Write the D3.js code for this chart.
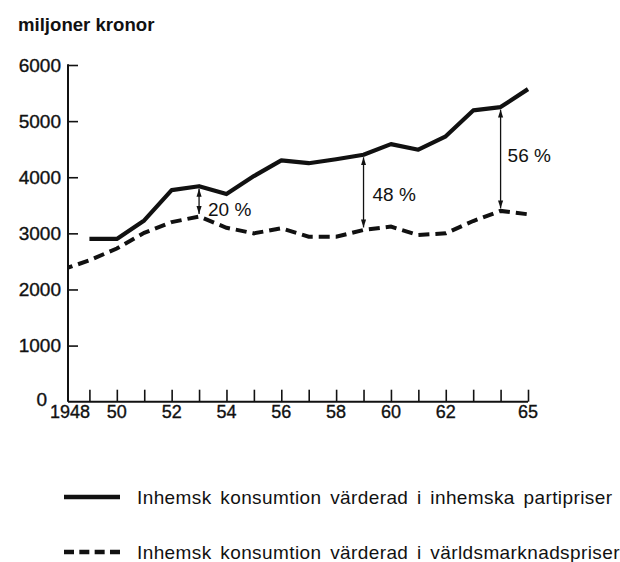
<!DOCTYPE html>
<html>
<head>
<meta charset="utf-8">
<script src="https://cdn.jsdelivr.net/npm/d3@7/dist/d3.min.js"></script>
<style>
  html, body { margin: 0; padding: 0; background: #fff; }
  svg { display: block; font-family: "Liberation Sans", Arial, Helvetica, sans-serif; }
</style>
</head>
<body>
<svg id="chart" width="620" height="562"></svg>
<script>
// ---- data ----
const solidYears  = [1949,1950,1951,1952,1953,1954,1955,1956,1957,1958,1959,1960,1961,1962,1963,1964,1965];
const solidValues = [2900,2900,3230,3770,3840,3700,4020,4300,4250,4320,4400,4590,4490,4730,5190,5250,5570];
const dashedYears  = [1948,1949,1950,1951,1952,1953,1954,1955,1956,1957,1958,1959,1960,1961,1962,1963,1964,1965];
const dashedValues = [2350,2520,2730,3010,3200,3300,3100,3000,3090,2940,2940,3060,3120,2970,3000,3220,3400,3340];
const yTicks = [0,1000,2000,3000,4000,5000,6000];
const xTickYears = [1949,1950,1951,1952,1953,1954,1955,1956,1957,1958,1959,1960,1961,1962,1963,1964,1965];
const xLabelYears = [1948,1950,1952,1954,1956,1958,1960,1962,1965];
const xLabelText = ["1948","50","52","54","56","58","60","62","65"];
const arrowYears = [1953,1959,1964];
const arrowLabels = ["20 %","48 %","56 %"];
const yTitle = "miljoner kronor";
const legendLabels = ["Inhemsk konsumtion värderad i inhemska partipriser",
                      "Inhemsk konsumtion värderad i världsmarknadspriser"];

// ---- layout ----
const svg = d3.select("#chart");
const axisX = 68, axisBottom = 401.7, axisTop = 65;
const x = d3.scaleLinear().domain([1948, 1965]).range([62, 528]);
const y = d3.scaleLinear().domain([0, 6000]).range([axisBottom, axisTop]);

const solid = solidYears.map((yr, i) => ({yr, v: solidValues[i]}));
const dashed = dashedYears.map((yr, i) => ({yr, v: dashedValues[i]}));

// title
svg.append("text").attr("x", 18).attr("y", 31)
  .attr("font-size", 18.6).attr("font-weight", "bold").attr("fill", "#111")
  .text(yTitle);

// clip for the plot area
svg.append("clipPath").attr("id", "plotclip")
  .append("rect").attr("x", axisX).attr("y", 0).attr("width", 620 - axisX).attr("height", axisBottom);

// y axis
const yAxis = d3.axisRight(y).tickValues(yTicks).tickSize(10).tickFormat("");
const gy = svg.append("g").attr("transform", `translate(${axisX},0)`).call(yAxis);
gy.select(".domain").remove();
gy.selectAll(".tick line").attr("stroke", "#111").attr("stroke-width", 1.6);
gy.selectAll(".tick").filter(d => d === 0).remove();
svg.append("line").attr("x1", axisX).attr("x2", axisX).attr("y1", y(6000) - 0.8).attr("y2", axisBottom)
  .attr("stroke", "#111").attr("stroke-width", 2);

// y labels
svg.append("g").selectAll("text").data(yTicks).join("text")
  .attr("x", d => d === 0 ? 47 : 61)
  .attr("y", d => y(d) + (d === 0 ? -3 : 0))
  .attr("dy", "0.36em")
  .attr("text-anchor", "end")
  .attr("font-size", 19).attr("fill", "#111")
  .attr("stroke", "#111").attr("stroke-width", 0.35)
  .text(d => d);

// x axis
svg.append("line").attr("x1", axisX).attr("x2", x(1965)).attr("y1", axisBottom).attr("y2", axisBottom)
  .attr("stroke", "#111").attr("stroke-width", 2);
const xAxis = d3.axisTop(x).tickValues(xTickYears).tickSize(12).tickFormat("");
const gx = svg.append("g").attr("transform", `translate(0,${axisBottom})`).call(xAxis);
gx.select(".domain").remove();
gx.selectAll(".tick line").attr("stroke", "#111").attr("stroke-width", 1.6);

svg.append("g").selectAll("text").data(xLabelYears).join("text")
  .attr("x", (d) => d === 1948 ? axisX + 2 : x(d))
  .attr("y", 418)
  .attr("text-anchor", "middle")
  .attr("font-size", 18).attr("fill", "#111")
  .attr("stroke", "#111").attr("stroke-width", 0.35)
  .text((d, i) => xLabelText[i]);

// lines
const line = d3.line().x(d => x(d.yr)).y(d => y(d.v)).curve(d3.curveLinear);
const plot = svg.append("g").attr("clip-path", "url(#plotclip)");
plot.append("path").datum(dashed).attr("d", line)
  .attr("fill", "none").attr("stroke", "#111").attr("stroke-width", 4)
  .attr("stroke-dasharray", "11,6");
plot.append("path").datum(solid).attr("d", line)
  .attr("fill", "none").attr("stroke", "#111").attr("stroke-width", 4.2)
  .attr("stroke-linejoin", "round");

// arrows
const defs = svg.append("defs");
defs.append("marker").attr("id", "arr").attr("viewBox", "0 0 10 10")
  .attr("refX", 10).attr("refY", 5).attr("markerWidth", 8).attr("markerHeight", 8)
  .attr("markerUnits", "userSpaceOnUse")
  .attr("orient", "auto-start-reverse")
  .append("path").attr("d", "M0,1.8 L10,5 L0,8.2 Z").attr("fill", "#111");

const labelOffsets = [[9, 8], [9, 2], [7, -4]];
arrowYears.forEach((yr, i) => {
  const top = y(solidValues[solidYears.indexOf(yr)]) + 2.5;
  const bot = y(dashedValues[dashedYears.indexOf(yr)]) - 2.5;
  svg.append("line").attr("x1", x(yr)).attr("x2", x(yr)).attr("y1", top).attr("y2", bot)
    .attr("stroke", "#111").attr("stroke-width", 1.3)
    .attr("marker-start", "url(#arr)").attr("marker-end", "url(#arr)");
  svg.append("text")
    .attr("x", x(yr) + labelOffsets[i][0])
    .attr("y", (top + bot) / 2 + labelOffsets[i][1])
    .attr("dy", "0.36em")
    .attr("font-size", 19).attr("fill", "#111")
    .text(arrowLabels[i]);
});

// legend
const legY = [497, 552];
legY.forEach((ly, i) => {
  svg.append("line").attr("x1", 64).attr("x2", 120).attr("y1", ly).attr("y2", ly)
    .attr("stroke", "#111").attr("stroke-width", 4.5)
    .attr("stroke-dasharray", i === 1 ? "10,5.33" : null);
  svg.append("text").attr("x", 137).attr("y", ly).attr("dy", "0.36em")
    .attr("font-size", 19).attr("fill", "#111")
    .attr("letter-spacing", 0.4).attr("word-spacing", 3)
    .text(legendLabels[i]);
});
</script>
</body>
</html>
